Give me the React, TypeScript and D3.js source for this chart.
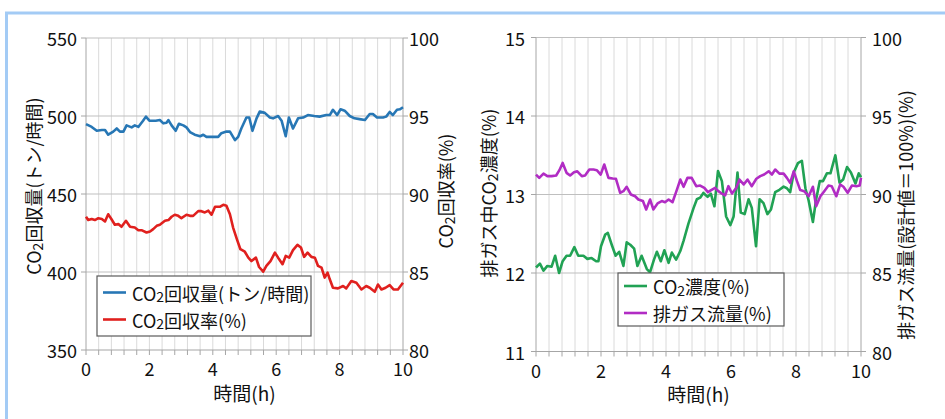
import React from 'react';
import * as d3 from 'd3';

type Pt = [number, number];

// Axis tick values
const hourTicks = [0, 2, 4, 6, 8, 10];
const amountTicks = [350, 400, 450, 500, 550];
const percentTicks = [80, 85, 90, 95, 100];
const concTicks = [11, 12, 13, 14, 15];

// CO2回収量 (t/h) over time (h)
const recoveryAmount: Pt[] = [
  [0, 494.8], [0.18, 493], [0.34, 490.5], [0.5, 491], [0.6, 491], [0.7, 488], [0.86, 490],
  [0.97, 492], [1.07, 490], [1.18, 490], [1.28, 494], [1.44, 492.7], [1.54, 494], [1.65, 493],
  [1.8, 497], [1.89, 499.6], [2.0, 497], [2.2, 497], [2.33, 497.4], [2.44, 495.3], [2.54, 495.7],
  [2.6, 497.4], [2.7, 494], [2.83, 490.5], [2.93, 495], [3.07, 494], [3.17, 492.7], [3.28, 489.7],
  [3.43, 488], [3.6, 487], [3.7, 488], [3.8, 486.6], [4.0, 486.6], [4.17, 486.6], [4.27, 489],
  [4.43, 490], [4.54, 490], [4.7, 484.5], [4.8, 486.6], [4.9, 492], [5.06, 499], [5.15, 499],
  [5.25, 490.5], [5.38, 498.5], [5.48, 502.8], [5.64, 502], [5.8, 499], [5.9, 498.5], [6.06, 500],
  [6.17, 497], [6.3, 487], [6.4, 499], [6.53, 492], [6.69, 498.5], [6.85, 499], [7.0, 500.6],
  [7.2, 500], [7.37, 499.6], [7.58, 500.6], [7.69, 500.6], [7.79, 504], [7.92, 500.6], [8.03, 504.3],
  [8.16, 503.4], [8.32, 500], [8.47, 498.5], [8.63, 498], [8.8, 497.4], [8.95, 501.3], [9.05, 501.3],
  [9.18, 499], [9.37, 499], [9.47, 499.6], [9.58, 502.6], [9.68, 500.6], [9.81, 504], [9.9, 504.3],
  [10, 505.6],
];

// CO2回収率 (%)
const recoveryRate: Pt[] = [
  [0, 88.54], [0.07, 88.33], [0.18, 88.4], [0.28, 88.33], [0.39, 88.45], [0.5, 88.4], [0.6, 88.24],
  [0.7, 88.7], [0.8, 88.4], [0.91, 88.03], [1.02, 88.07], [1.12, 87.9], [1.26, 88.28], [1.39, 87.9],
  [1.54, 87.85], [1.65, 87.68], [1.75, 87.68], [1.91, 87.53], [2.02, 87.6], [2.12, 87.75],
  [2.23, 87.96], [2.33, 88.03], [2.49, 88.28], [2.6, 88.33], [2.7, 88.54], [2.8, 88.67], [2.91, 88.6],
  [3.01, 88.45], [3.17, 88.67], [3.28, 88.6], [3.38, 88.6], [3.54, 88.9], [3.64, 88.9], [3.75, 88.82],
  [3.86, 88.93], [3.96, 88.67], [4.07, 89.18], [4.22, 89.18], [4.33, 89.31], [4.43, 89.25],
  [4.54, 88.7], [4.64, 87.85], [4.77, 87.04], [4.87, 86.46], [5.01, 86.3], [5.12, 85.92], [5.22, 85.7],
  [5.36, 85.92], [5.46, 85.32], [5.59, 85.02], [5.69, 85.39], [5.82, 85.7], [5.96, 86.24], [6.06, 85.92],
  [6.2, 85.5], [6.3, 86.03], [6.41, 85.92], [6.53, 86.4], [6.67, 86.74], [6.78, 86.57], [6.88, 85.97],
  [6.99, 86.24], [7.11, 85.97], [7.22, 85.92], [7.32, 85.39], [7.43, 85.28], [7.53, 84.64],
  [7.62, 84.96], [7.69, 84.53], [7.79, 83.99], [7.95, 83.95], [8.11, 84.1], [8.21, 83.95],
  [8.37, 84.42], [8.53, 84.31], [8.69, 83.88], [8.84, 84.1], [8.95, 83.99], [9.11, 83.73], [9.21, 84.2],
  [9.32, 83.88], [9.45, 83.99], [9.58, 84.16], [9.7, 83.88], [9.84, 83.88], [10, 84.31],
];

// 排ガス中CO2濃度 (%)
const flueCo2: Pt[] = [
  [0, 12.07], [0.12, 12.12], [0.23, 12.03], [0.35, 12.09], [0.48, 12.08], [0.59, 12.22], [0.71, 12.0],
  [0.82, 12.15], [0.94, 12.22], [1.05, 12.22], [1.18, 12.33], [1.3, 12.22], [1.46, 12.22], [1.58, 12.18],
  [1.71, 12.19], [1.85, 12.15], [1.92, 12.15], [2.0, 12.34], [2.13, 12.49], [2.21, 12.51], [2.33, 12.36],
  [2.45, 12.22], [2.56, 12.27], [2.69, 12.09], [2.79, 12.39], [2.9, 12.36], [3.02, 12.31], [3.12, 12.09],
  [3.25, 12.22], [3.41, 12.05], [3.51, 12.01], [3.63, 12.17], [3.72, 12.27], [3.84, 12.15], [3.95, 12.29],
  [4.08, 12.13], [4.18, 12.26], [4.31, 12.17], [4.44, 12.28], [4.54, 12.41], [4.69, 12.63], [4.85, 12.83],
  [4.95, 12.94], [5.05, 12.96], [5.15, 13.02], [5.28, 12.97], [5.38, 13.01], [5.49, 12.85], [5.6, 13.3],
  [5.72, 13.17], [5.85, 12.72], [5.98, 12.61], [6.08, 12.72], [6.2, 13.28], [6.3, 12.77], [6.42, 12.75],
  [6.54, 12.94], [6.64, 12.83], [6.77, 12.34], [6.88, 12.94], [7.0, 12.89], [7.12, 12.75], [7.23, 12.81],
  [7.36, 13.03], [7.49, 13.06], [7.62, 13.1], [7.72, 13.08], [7.82, 13.03], [7.93, 13.28], [8.06, 13.4],
  [8.18, 13.43], [8.29, 13.08], [8.39, 12.92], [8.52, 12.65], [8.62, 12.94], [8.73, 13.17], [8.83, 13.17],
  [8.95, 13.27], [9.06, 13.27], [9.21, 13.5], [9.34, 13.15], [9.45, 13.19], [9.57, 13.35], [9.69, 13.28],
  [9.83, 13.14], [9.93, 13.27], [10, 13.22],
];

// 排ガス流量 (設計値=100%)
const flueFlow: Pt[] = [
  [0, 91.27], [0.1, 91.06], [0.23, 91.33], [0.35, 91.17], [0.48, 91.17], [0.62, 91.21], [0.72, 91.55],
  [0.82, 92.01], [0.94, 91.38], [1.05, 91.21], [1.17, 91.42], [1.27, 91.48], [1.41, 91.17], [1.51, 91.21],
  [1.64, 91.59], [1.77, 91.59], [1.87, 91.55], [1.99, 91.27], [2.1, 91.91], [2.23, 91.06], [2.36, 91.02],
  [2.46, 91.0], [2.59, 90.11], [2.69, 90.21], [2.79, 90.49], [2.92, 90.0], [3.05, 89.89], [3.15, 89.68],
  [3.29, 89.58], [3.39, 89.05], [3.51, 89.68], [3.61, 89.05], [3.74, 89.43], [3.87, 89.58], [3.97, 89.51],
  [4.08, 89.68], [4.2, 89.51], [4.31, 90.15], [4.44, 90.95], [4.54, 90.49], [4.66, 91.06], [4.79, 91.06],
  [4.93, 90.53], [5.05, 90.57], [5.18, 90.42], [5.29, 90.15], [5.39, 90.28], [5.51, 90.42], [5.61, 90.21],
  [5.72, 90.06], [5.82, 89.94], [5.92, 90.53], [6.03, 90.06], [6.16, 90.42], [6.26, 90.95], [6.39, 90.64],
  [6.51, 90.95], [6.64, 90.53], [6.78, 91.0], [6.9, 91.17], [7.02, 91.27], [7.16, 91.48], [7.26, 91.27],
  [7.36, 91.59], [7.49, 91.33], [7.62, 91.33], [7.72, 91.06], [7.82, 90.74], [7.93, 91.48], [8.03, 90.85],
  [8.13, 90.28], [8.25, 90.21], [8.39, 89.89], [8.52, 90.49], [8.62, 89.26], [8.75, 89.89], [8.87, 90.21],
  [9.0, 90.57], [9.1, 90.53], [9.24, 89.89], [9.36, 90.64], [9.46, 90.49], [9.59, 90.11], [9.72, 90.57],
  [9.86, 90.53], [9.96, 90.57], [10, 91.06],
];

const FONT = "'Noto Sans CJK JP', 'Noto Sans', sans-serif";

type Part = { t: string; sub?: boolean };

const co2 = (rest: string): Part[] => [{ t: 'CO' }, { t: '2', sub: true }, { t: rest }];

function RichText({ parts, size }: { parts: Part[]; size: number }) {
  const shift = size * 0.22;
  const out: React.ReactNode[] = [];
  let lowered = false;
  parts.forEach((p, i) => {
    let dy = 0;
    if (p.sub && !lowered) { dy = shift; lowered = true; }
    else if (!p.sub && lowered) { dy = -shift; lowered = false; }
    out.push(
      <tspan key={i} dy={dy || undefined} fontSize={p.sub ? size * 0.78 : size}>{p.t}</tspan>
    );
  });
  return <>{out}</>;
}

type Series = { data: Pt[]; axis: 'left' | 'right'; color: string; label: Part[] };

type PanelProps = {
  x0: number; x1: number; yTop: number; yBottom: number;
  leftDomain: [number, number]; leftTicks: number[];
  rightDomain: [number, number]; rightTicks: number[];
  leftLabelGap: number; rightLabelGap: number;
  series: Series[];
  leftTitle: Part[]; leftTitlePos: [number, number];
  rightTitle: Part[]; rightTitlePos: [number, number];
  legend: { x: number; y: number; w: number; h: number; rowGap: number; lineW: number };
};

function Panel(p: PanelProps) {
  const x = d3.scaleLinear().domain([0, 10]).range([p.x0, p.x1]);
  const yL = d3.scaleLinear().domain(p.leftDomain).range([p.yBottom, p.yTop]);
  const yR = d3.scaleLinear().domain(p.rightDomain).range([p.yBottom, p.yTop]);
  const minor = d3.range(0, 10.0001, 0.4).map((v) => +v.toFixed(1));
  const axisColor = '#a6a6a6';
  const lg = p.legend;
  return (
    <g>
      {/* vertical minor grid */}
      {minor.filter((v) => v > 0 && v < 10).map((v) => (
        <line key={'vg' + v} x1={x(v)} x2={x(v)} y1={p.yTop} y2={p.yBottom} stroke="#dadada" strokeWidth={1} />
      ))}
      {/* horizontal major grid */}
      {p.leftTicks.slice(1).map((v) => (
        <line key={'hg' + v} x1={p.x0} x2={p.x1} y1={yL(v)} y2={yL(v)} stroke="#bfbfbf" strokeWidth={1.2} />
      ))}
      {/* axes */}
      <line x1={p.x0} x2={p.x0} y1={p.yTop} y2={p.yBottom} stroke={axisColor} />
      <line x1={p.x1} x2={p.x1} y1={p.yTop} y2={p.yBottom} stroke={axisColor} />
      <line x1={p.x0} x2={p.x1} y1={p.yBottom} y2={p.yBottom} stroke={axisColor} strokeWidth={1.2} />
      {minor.map((v) => (
        <line key={'xt' + v} x1={x(v)} x2={x(v)} y1={p.yBottom} y2={p.yBottom + 5} stroke={axisColor} />
      ))}
      {p.leftTicks.map((v) => (
        <g key={'yl' + v}>
          <line x1={p.x0 - 5} x2={p.x0} y1={yL(v)} y2={yL(v)} stroke={axisColor} />
          <text x={p.x0 - p.leftLabelGap} y={yL(v)} textAnchor="end" dominantBaseline="central" fontSize={18} fill="#111">{v}</text>
        </g>
      ))}
      {p.rightTicks.map((v) => (
        <g key={'yr' + v}>
          <line x1={p.x1} x2={p.x1 + 5} y1={yR(v)} y2={yR(v)} stroke={axisColor} />
          <text x={p.x1 + p.rightLabelGap} y={yR(v)} textAnchor="start" dominantBaseline="central" fontSize={18} fill="#111">{v}</text>
        </g>
      ))}
      {hourTicks.map((v) => (
        <text key={'xl' + v} x={x(v)} y={p.yBottom + 18} textAnchor="middle" dominantBaseline="central" fontSize={18} fill="#111">{v}</text>
      ))}
      <text x={(p.x0 + p.x1) / 2} y={p.yBottom + 42} textAnchor="middle" dominantBaseline="central" fontSize={19} fill="#111">時間(h)</text>
      <text transform={`translate(${p.leftTitlePos[0]},${p.leftTitlePos[1]}) rotate(-90)`} textAnchor="middle" dominantBaseline="central" fill="#111">
        <RichText parts={p.leftTitle} size={18} />
      </text>
      <text transform={`translate(${p.rightTitlePos[0]},${p.rightTitlePos[1]}) rotate(-90)`} textAnchor="middle" dominantBaseline="central" fill="#111">
        <RichText parts={p.rightTitle} size={18} />
      </text>
      {/* data lines */}
      {p.series.map((s, i) => {
        const ys = s.axis === 'left' ? yL : yR;
        const path = d3.line<Pt>().x((d) => x(d[0])).y((d) => ys(d[1]))(s.data) || '';
        return <path key={'s' + i} d={path} fill="none" stroke={s.color} strokeWidth={2.6} strokeLinejoin="round" />;
      })}
      {/* legend */}
      <rect x={lg.x} y={lg.y} width={lg.w} height={lg.h} fill="#fff" stroke="#5a5a5a" strokeWidth={1.2} />
      {p.series.map((s, i) => {
        const cy = lg.y + lg.h / 2 + (i - (p.series.length - 1) / 2) * lg.rowGap;
        return (
          <g key={'lg' + i}>
            <line x1={lg.x + 6} x2={lg.x + 6 + lg.lineW} y1={cy} y2={cy} stroke={s.color} strokeWidth={2.6} />
            <text x={lg.x + 12 + lg.lineW} y={cy} dominantBaseline="central" fill="#111">
              <RichText parts={s.label} size={18} />
            </text>
          </g>
        );
      })}
    </g>
  );
}

export default function App() {
  return (
    <svg width={945} height={419} style={{ position: 'absolute', left: 0, top: 0, fontFamily: FONT }}>
      <rect x={0} y={0} width={945} height={419} fill="#fff" />
      <rect x={6.5} y={13} width={1000} height={500} fill="none" stroke="#a3cbf5" strokeWidth={3} />
      <Panel
        x0={86} x1={403} yTop={38} yBottom={350}
        leftDomain={[350, 550]} leftTicks={amountTicks}
        rightDomain={[80, 100]} rightTicks={percentTicks}
        leftLabelGap={9} rightLabelGap={6}
        series={[
          { data: recoveryAmount, axis: 'left', color: '#2777b5', label: co2('回収量(トン/時間)') },
          { data: recoveryRate, axis: 'right', color: '#e0201e', label: co2('回収率(%)') },
        ]}
        leftTitle={co2('回収量(トン/時間)')} leftTitlePos={[33, 186]}
        rightTitle={co2('回収率(%)')} rightTitlePos={[445, 191]}
        legend={{ x: 97, y: 276, w: 214, h: 60, rowGap: 27, lineW: 23 }}
      />
      <Panel
        x0={536} x1={861} yTop={37.5} yBottom={351.5}
        leftDomain={[11, 15]} leftTicks={concTicks}
        rightDomain={[80, 100]} rightTicks={percentTicks}
        leftLabelGap={11} rightLabelGap={11}
        series={[
          { data: flueCo2, axis: 'left', color: '#21a254', label: co2('濃度(%)') },
          { data: flueFlow, axis: 'right', color: '#b12cc4', label: [{ t: '排ガス流量(%)' }] },
        ]}
        leftTitle={[{ t: '排ガス中CO' }, { t: '2', sub: true }, { t: '濃度(%)' }]} leftTitlePos={[488, 193]}
        rightTitle={[{ t: '排ガス流量(設計値＝100%)(%)' }]} rightTitlePos={[905, 215]}
        legend={{ x: 618, y: 273, w: 166, h: 53, rowGap: 27, lineW: 23 }}
      />
    </svg>
  );
}
